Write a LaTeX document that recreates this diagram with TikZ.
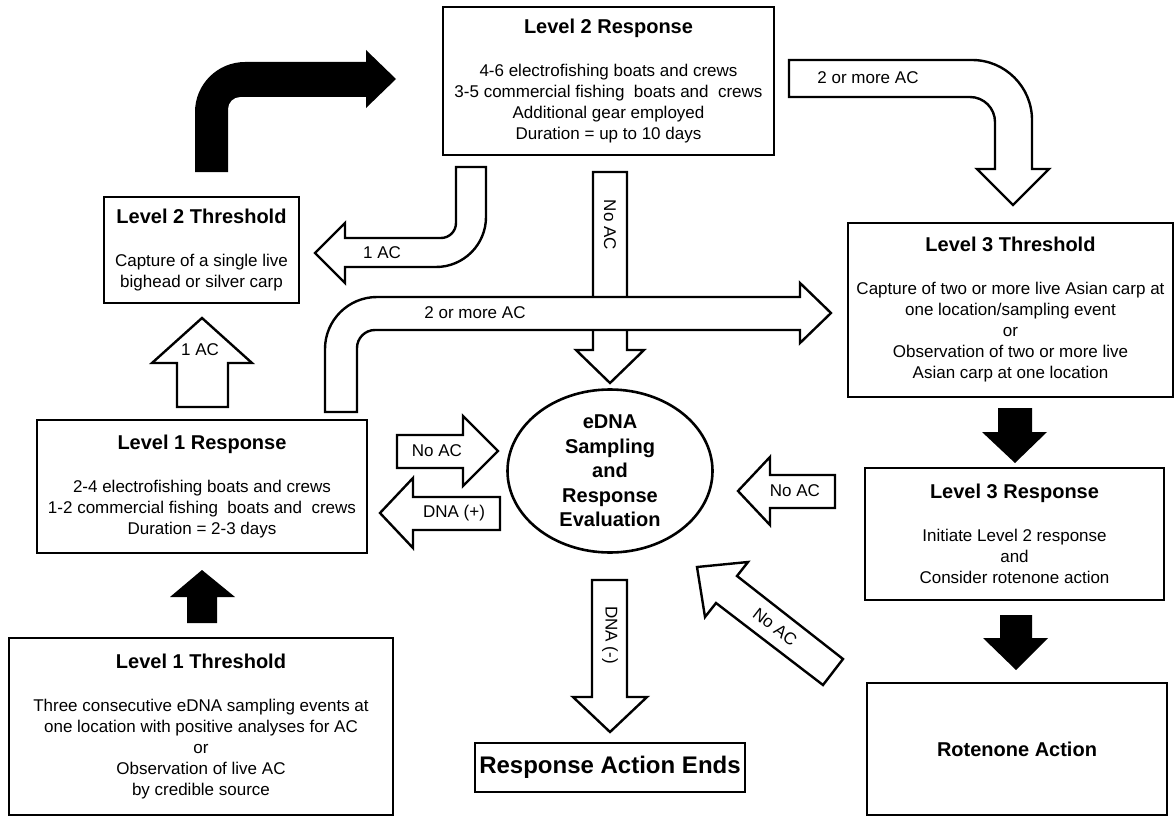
\documentclass[tikz,border=0pt]{standalone}
\usepackage{fontspec}
\setmainfont{Liberation Sans}
\usetikzlibrary{shapes.geometric}
\newcommand{\flowtitle}[1]{{\fontsize{20}{21}\selectfont\bfseries #1}\\[22pt]}
\tikzset{
  every picture/.style={font=\fontsize{17}{21}\selectfont, text=black},
  flow box/.style={draw=black, line width=2.6pt, fill=white, align=center,
    inner sep=2pt},
  open arrow/.style={draw=black, fill=white, line width=2.4pt, line join=miter},
  solid arrow/.style={fill=black},
  arrow label/.style={inner sep=1pt}
}

\begin{document}
\begin{tikzpicture}[x=1pt,y=-1pt]
  \useasboundingbox (0,0) rectangle (1176,816);

  % boxes
  \node[flow box, minimum width=331pt, minimum height=148pt] (l2resp) at (608.5,81)
    {\flowtitle{Level 2 Response}4-6 electrofishing boats and crews\\
     3-5 commercial fishing\ \ boats and\ \ crews\\Additional gear employed\\
     Duration = up to 10 days};
  \node[flow box, minimum width=195pt, minimum height=106pt] (l2thr) at (201.5,250)
    {\flowtitle{Level 2 Threshold}Capture of a single live\\bighead or silver carp};
  \node[flow box, minimum width=330pt, minimum height=133pt] (l1resp) at (202,486.5)
    {\flowtitle{Level 1 Response}2-4 electrofishing boats and crews\\
     1-2 commercial fishing\ \ boats and\ \ crews\\Duration = 2-3 days};
  \node[flow box, minimum width=384pt, minimum height=177pt] (l1thr) at (201,726.5)
    {\flowtitle{Level 1 Threshold}Three consecutive eDNA sampling events at\\
     one location with positive analyses for AC\\or\\Observation of live AC\\
     by credible source};
  \node[flow box, minimum width=325pt, minimum height=174pt] (l3thr) at (1010.5,310)
    {\flowtitle{Level 3 Threshold}Capture of two or more live Asian carp at\\
     one location/sampling event\\or\\Observation of two or more live\\
     Asian carp at one location};
  \node[flow box, minimum width=299pt, minimum height=132pt] (l3resp) at (1014.5,534)
    {\flowtitle{Level 3 Response}Initiate Level 2 response\\and\\
     Consider rotenone action};
  \node[flow box, minimum width=300pt, minimum height=132pt,
    font=\fontsize{20}{21}\selectfont\bfseries] (rotenone) at (1017,749) {Rotenone Action};
  \node[flow box, minimum width=270pt, minimum height=49pt, inner sep=1pt,
    font=\fontsize{24}{26}\selectfont\bfseries] (ends) at (610,767.5) {Response Action Ends};
  \node[ellipse, draw=black, line width=2.6pt, minimum width=205pt,
    minimum height=163pt] (edna) at (610,471) {};
  \node[align=center, font=\fontsize{20}{24.5}\selectfont\bfseries] (ednatext) at (edna.center)
    {eDNA\\Sampling\\and\\Response\\Evaluation};

  % solid arrows
  \fill[solid arrow] (195,172) -- (195,112) arc[start angle=180, end angle=270, radius=50]
    -- (366,62) -- (366,50) -- (396,79) -- (366,108) -- (366,97) -- (240,97)
    arc[start angle=270, end angle=180, radius=12] -- (228,172) -- cycle;
  \fill[solid arrow] (187,623) -- (187,597) -- (170,597) -- (202,570) -- (235,597)
    -- (217,597) -- (217,623) -- cycle;
  \fill[solid arrow] (998,408) -- (1032,408) -- (1032,432) -- (1047,432) -- (1015,463)
    -- (982,432) -- (998,432) -- cycle;
  \fill[solid arrow] (1000,615) -- (1032,615) -- (1032,638) -- (1048,638) -- (1016,670)
    -- (983,638) -- (1000,638) -- cycle;

  % open arrows
  \draw[open arrow] (456,167) -- (486,167) -- (486,217)
    arc[start angle=0, end angle=90, radius=50] -- (345,267) -- (345,283) -- (315,253)
    -- (345,223) -- (345,238) -- (441,238) arc[start angle=90, end angle=0, radius=15]
    -- cycle;
  \draw[open arrow] (789,60) -- (972,60) arc[start angle=270, end angle=360, radius=60]
    -- (1032,169) -- (1049,169) -- (1013,205) -- (977,169) -- (995,169) -- (995,122)
    arc[start angle=0, end angle=-90, radius=25] -- (789,97) -- cycle;
  \draw[open arrow] (593,172) -- (627,172) -- (627,350) -- (644,350) -- (610,383)
    -- (576,350) -- (593,350) -- cycle;
  \draw[open arrow] (325,412) -- (325,349) arc[start angle=180, end angle=270, radius=52]
    -- (800,297) -- (800,283) -- (831,313) -- (800,343) -- (800,330) -- (375,330)
    arc[start angle=270, end angle=180, radius=18] -- (357,412) -- cycle;
  \draw[open arrow] (177,407) -- (177,363) -- (152,363) -- (202,318) -- (252,363)
    -- (228,363) -- (228,407) -- cycle;
  \draw[open arrow] (397,435) -- (463,435) -- (463,416) -- (498,451) -- (463,486)
    -- (463,468) -- (397,468) -- cycle;
  \draw[open arrow] (500,497) -- (413,497) -- (413,478) -- (380,513) -- (413,548)
    -- (413,530) -- (500,530) -- cycle;
  \draw[open arrow] (592,580) -- (627,580) -- (627,697) -- (647,697) -- (610,732)
    -- (573,697) -- (592,697) -- cycle;
  \draw[open arrow] (835,475) -- (770,475) -- (770,457) -- (738,491) -- (770,525)
    -- (770,508) -- (835,508) -- cycle;
  \draw[open arrow] (843,659) -- (737,576) -- (748,562) -- (697,567) -- (705,617)
    -- (716,603) -- (823,685) -- cycle;

  % arrow labels
  \node[arrow label] (lbloneacleft) at (382,253) {1 AC};
  \node[arrow label] (lbloneacup) at (200,350) {1 AC};
  \node[arrow label] (lbltwoactop) at (868,78) {2 or more AC};
  \node[arrow label] (lbltwoacmid) at (475,313) {2 or more AC};
  \node[arrow label, rotate=-90] (lblnoacdown) at (610,225) {No AC};
  \node[arrow label] (lblnoacright) at (437,451) {No AC};
  \node[arrow label] (lbldnaplus) at (454,513) {DNA (+)};
  \node[arrow label, rotate=-90] (lbldnaminus) at (610,635) {DNA (-)};
  \node[arrow label] (lblnoacleft) at (795,491) {No AC};
  \node[arrow label, rotate=-37.7] (lblnoacdiag) at (775,627) {No AC};
\end{tikzpicture}
\end{document}
